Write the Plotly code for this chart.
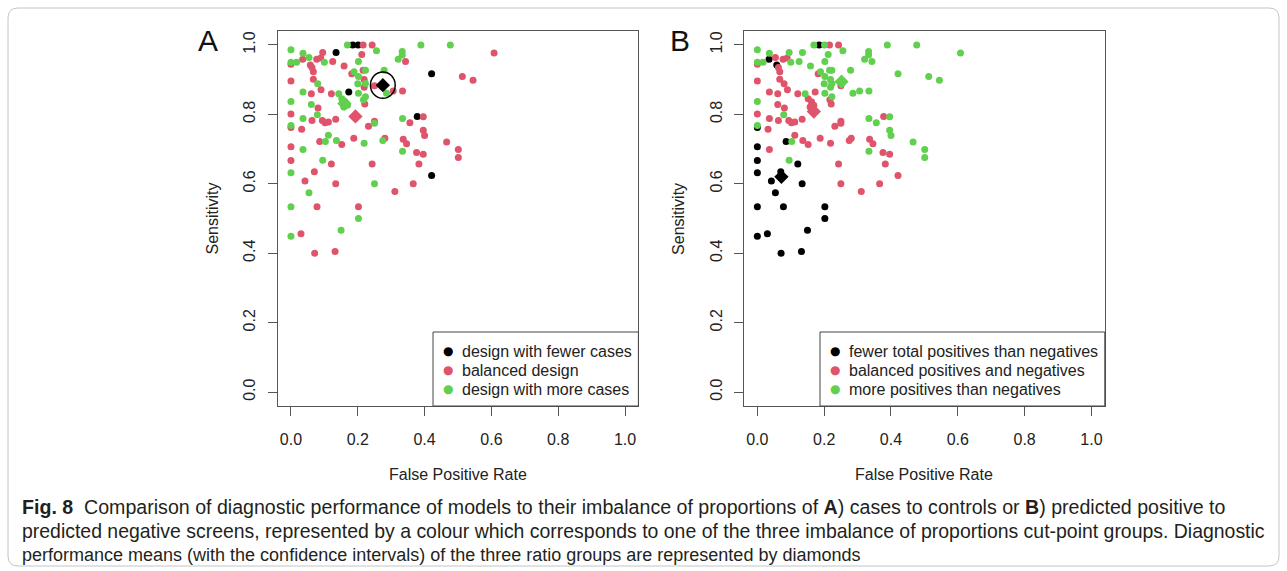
import plotly.graph_objects as go

W, H = 1287, 571

# ---------------- data ----------------
fpr = [0.169, 0.185, 0.201, 0.216, 0.243, 0.389, 0.477, 0.000, 0.036, 0.095,
       0.135, 0.212, 0.256, 0.333, 0.333, 0.321, 0.343, 0.000, 0.017, 0.000,
       0.035, 0.054, 0.077, 0.089, 0.100, 0.125, 0.202, 0.159, 0.058, 0.063,
       0.067, 0.513, 0.421, 0.182, 0.189, 0.216, 0.223, 0.279, 0.000, 0.067,
       0.080, 0.090, 0.202, 0.200, 0.219, 0.223, 0.250, 0.306, 0.334, 0.286,
       0.219, 0.173, 0.036, 0.061, 0.121, 0.143, 0.202, 0.223, 0.221, 0.217,
       0.000, 0.061, 0.081, 0.152, 0.162, 0.169, 0.158, 0.000, 0.036, 0.063,
       0.079, 0.094, 0.102, 0.112, 0.134, 0.250, 0.250, 0.232, 0.334, 0.378,
       0.396, 0.356, 0.396, 0.400, 0.000, 0.000, 0.032, 0.112, 0.086, 0.103,
       0.136, 0.152, 0.188, 0.219, 0.281, 0.275, 0.336, 0.346, 0.466, 0.501,
       0.501, 0.000, 0.036, 0.334, 0.376, 0.396, 0.095, 0.000, 0.121, 0.243,
       0.383, 0.000, 0.070, 0.421, 0.042, 0.134, 0.250, 0.366, 0.054, 0.311,
       0.000, 0.078, 0.202, 0.202, 0.150, 0.000, 0.030, 0.071, 0.132, 0.608,
       0.545]
sens = [1.000, 1.000, 1.000, 1.000, 1.000, 1.000, 1.000, 0.986, 0.976, 0.978,
        0.978, 0.972, 0.983, 0.981, 0.971, 0.959, 0.952, 0.950, 0.950, 0.944,
        0.959, 0.964, 0.959, 0.962, 0.950, 0.952, 0.952, 0.939, 0.942, 0.935,
        0.923, 0.909, 0.917, 0.917, 0.923, 0.927, 0.927, 0.927, 0.896, 0.901,
        0.888, 0.871, 0.909, 0.888, 0.900, 0.889, 0.882, 0.867, 0.867, 0.861,
        0.878, 0.864, 0.864, 0.859, 0.859, 0.859, 0.861, 0.851, 0.830, 0.842,
        0.837, 0.828, 0.818, 0.845, 0.836, 0.826, 0.821, 0.801, 0.788, 0.782,
        0.799, 0.782, 0.776, 0.778, 0.786, 0.780, 0.774, 0.766, 0.788, 0.794,
        0.793, 0.776, 0.754, 0.739, 0.768, 0.762, 0.757, 0.740, 0.722, 0.722,
        0.725, 0.713, 0.731, 0.717, 0.731, 0.725, 0.728, 0.715, 0.720, 0.699,
        0.676, 0.707, 0.699, 0.694, 0.690, 0.685, 0.668, 0.667, 0.657, 0.657,
        0.657, 0.632, 0.635, 0.624, 0.608, 0.600, 0.600, 0.600, 0.574, 0.578,
        0.534, 0.534, 0.534, 0.500, 0.466, 0.449, 0.456, 0.400, 0.405, 0.977,
        0.898]
# group codes: 0 = first group (black), 1 = balanced (red), 2 = third group (green)
group_a = [2, 0, 0, 1, 1, 2, 2, 2, 2, 1, 0, 1, 2, 2, 2, 2, 1, 2, 2, 1,
           1, 2, 1, 1, 2, 1, 2, 1, 1, 1, 1, 1, 0, 1, 2, 1, 2, 2, 1, 1,
           2, 1, 2, 2, 1, 2, 1, 1, 1, 2, 1, 0, 2, 1, 1, 2, 2, 2, 1, 2,
           2, 2, 1, 2, 2, 2, 2, 1, 2, 1, 2, 1, 1, 1, 1, 1, 2, 1, 2, 0,
           1, 1, 1, 1, 2, 1, 1, 2, 1, 2, 2, 1, 1, 2, 1, 2, 1, 1, 1, 1,
           1, 1, 2, 2, 1, 1, 2, 1, 1, 1, 1, 2, 1, 0, 1, 1, 2, 1, 2, 1,
           2, 1, 1, 2, 2, 2, 1, 1, 1, 1, 1]
group_b = [2, 0, 2, 1, 1, 2, 2, 2, 2, 2, 2, 2, 2, 2, 2, 2, 2, 2, 2, 1,
           0, 1, 1, 1, 2, 2, 2, 2, 0, 1, 1, 2, 2, 1, 2, 2, 2, 2, 1, 1,
           1, 1, 2, 2, 2, 2, 1, 2, 2, 2, 2, 1, 1, 1, 1, 2, 2, 2, 1, 1,
           2, 1, 1, 1, 1, 1, 1, 1, 1, 1, 2, 1, 1, 1, 1, 1, 1, 1, 2, 1,
           2, 2, 2, 2, 2, 0, 1, 1, 0, 2, 1, 1, 1, 1, 1, 1, 1, 1, 2, 2,
           2, 0, 1, 2, 1, 1, 2, 0, 0, 1, 1, 0, 0, 1, 0, 0, 1, 1, 0, 1,
           0, 0, 0, 0, 0, 0, 0, 0, 0, 2, 2]

# group means (diamonds) and confidence-interval radii
mean_a_fpr = [0.275, 0.193, 0.160]
mean_a_sens = [0.884, 0.794, 0.831]
ci_a_fpr = [0.037, 0.0, 0.0]
ci_a_sens = [0.038, 0.0, 0.0]
mean_b_fpr = [0.072, 0.169, 0.252]
mean_b_sens = [0.620, 0.808, 0.894]

labels_a = ["design with fewer cases", "balanced design", "design with more cases"]
labels_b = ["fewer total positives than negatives", "balanced positives and negatives",
            "more positives than negatives"]
tick_vals = [0.0, 0.2, 0.4, 0.6, 0.8, 1.0]
tick_text = ["0.0", "0.2", "0.4", "0.6", "0.8", "1.0"]

caption_lines = [
    "<b>Fig. 8</b>\u00a0\u00a0Comparison of diagnostic performance of models to their imbalance of proportions of <b>A</b>) cases to controls or <b>B</b>) predicted positive to",
    "predicted negative screens, represented by a colour which corresponds to one of the three imbalance of proportions cut-point groups. Diagnostic",
    "performance means (with the confidence intervals) of the three ratio groups are represented by diamonds",
]
caption_sizes = [19.6, 19.45, 18.0]

colors = ["#000000", "#DF536B", "#61D04F"]
FONT = "Liberation Sans, Arial, Helvetica, sans-serif"

# ---------------- layout helpers (pixels -> paper) ----------------
def px(x):
    return x / W

def py(y):
    return 1 - y / H

panels = [
    dict(xa="x", ya="y", left=277.6, right=638.4, letter="A", letter_x=208,
         groups=group_a, mfpr=mean_a_fpr, msens=mean_a_sens, labels=labels_a,
         leg_left=433),
    dict(xa="x2", ya="y2", left=744.0, right=1104.8, letter="B", letter_x=680,
         groups=group_b, mfpr=mean_b_fpr, msens=mean_b_sens, labels=labels_b,
         leg_left=820),
]
TOP, BOTTOM = 31.0, 406.0

fig = go.Figure()
annotations = []
shapes = []

for p in panels:
    for g in range(3):
        idx = [i for i, v in enumerate(p["groups"]) if v == g]
        fig.add_trace(go.Scatter(
            x=[fpr[i] for i in idx], y=[sens[i] for i in idx],
            mode="markers", xaxis=p["xa"], yaxis=p["ya"],
            marker=dict(color=colors[g], size=7, line=dict(width=0)),
            name=p["labels"][g], showlegend=False, hoverinfo="x+y"))
    for g in range(3):
        fig.add_trace(go.Scatter(
            x=[p["mfpr"][g]], y=[p["msens"][g]], mode="markers",
            xaxis=p["xa"], yaxis=p["ya"],
            marker=dict(color=colors[g], size=11, symbol="diamond", line=dict(width=0)),
            showlegend=False, name=p["labels"][g] + " mean"))

    # panel letter
    annotations.append(dict(text=p["letter"], x=px(p["letter_x"]), y=py(40),
                            xref="paper", yref="paper", showarrow=False,
                            font=dict(size=30, family=FONT, color="#111"),
                            xanchor="center", yanchor="middle"))
    cx = (p["left"] + p["right"]) / 2
    annotations.append(dict(text="False Positive Rate", x=px(cx), y=py(474),
                            xref="paper", yref="paper", showarrow=False,
                            font=dict(size=16, family=FONT, color="#222"),
                            xanchor="center", yanchor="middle"))
    annotations.append(dict(text="Sensitivity", x=px(p["left"] - 65.6), y=py((TOP + BOTTOM) / 2),
                            xref="paper", yref="paper", showarrow=False, textangle=-90,
                            font=dict(size=16, family=FONT, color="#222"),
                            xanchor="center", yanchor="middle"))
    # legend box
    shapes.append(dict(type="rect", xref="paper", yref="paper",
                       x0=px(p["leg_left"]), x1=px(p["right"]), y0=py(BOTTOM), y1=py(332),
                       line=dict(color="#444", width=1), fillcolor="white", layer="above"))
    for k, ly in enumerate([351, 370, 389]):
        annotations.append(dict(text="\u25CF", x=px(p["leg_left"] + 15), y=py(ly),
                                xref="paper", yref="paper", showarrow=False,
                                font=dict(size=12, family="DejaVu Sans", color=colors[k]),
                                xanchor="center", yanchor="middle"))
        annotations.append(dict(text=p["labels"][k], x=px(p["leg_left"] + 27), y=py(ly),
                                xref="paper", yref="paper", showarrow=False,
                                font=dict(size=16, family=FONT, color="#222"),
                                xanchor="left", yanchor="middle"))

# confidence interval circle (panel A)
for g in range(3):
    if ci_a_fpr[g] > 0:
        shapes.append(dict(type="circle", xref="x", yref="y",
                           x0=mean_a_fpr[g] - ci_a_fpr[g], x1=mean_a_fpr[g] + ci_a_fpr[g],
                           y0=mean_a_sens[g] - ci_a_sens[g], y1=mean_a_sens[g] + ci_a_sens[g],
                           line=dict(color=colors[g], width=1.5)))

# caption
for line, ly, fs in zip(caption_lines, [507, 531, 555], caption_sizes):
    annotations.append(dict(text=line, x=px(20), y=py(ly), xref="paper", yref="paper",
                            showarrow=False, xanchor="left", yanchor="middle",
                            font=dict(size=fs, family=FONT, color="#231f20")))

# outer rounded frame
r = 10
x0f, x1f, y0f, y1f = 8, 1279, 8, 566
path = (f"M {px(x0f + r)},{py(y0f)} L {px(x1f - r)},{py(y0f)} "
        f"Q {px(x1f)},{py(y0f)} {px(x1f)},{py(y0f + r)} L {px(x1f)},{py(y1f - r)} "
        f"Q {px(x1f)},{py(y1f)} {px(x1f - r)},{py(y1f)} L {px(x0f + r)},{py(y1f)} "
        f"Q {px(x0f)},{py(y1f)} {px(x0f)},{py(y1f - r)} L {px(x0f)},{py(y0f + r)} "
        f"Q {px(x0f)},{py(y0f)} {px(x0f + r)},{py(y0f)} Z")
shapes.append(dict(type="path", xref="paper", yref="paper", path=path,
                   line=dict(color="#c4c4c4", width=1)))

axis_common = dict(range=[-0.04, 1.04], tickvals=tick_vals, ticktext=tick_text,
                   ticks="outside", ticklen=9, tickwidth=1, tickcolor="#555",
                   showline=True, mirror=True, linecolor="#555", linewidth=1,
                   showgrid=False, zeroline=False,
                   tickfont=dict(size=16, family=FONT, color="#222"))
ydom = [py(BOTTOM), py(TOP)]
fig.update_layout(
    width=W, height=H, autosize=False,
    margin=dict(l=0, r=0, t=0, b=0),
    paper_bgcolor="white", plot_bgcolor="white",
    showlegend=False,
    xaxis=dict(domain=[px(panels[0]["left"]), px(panels[0]["right"])], anchor="y",
               ticklabelstandoff=10, **axis_common),
    yaxis=dict(domain=ydom, anchor="x", tickangle=-90, ticklabelstandoff=6, **axis_common),
    xaxis2=dict(domain=[px(panels[1]["left"]), px(panels[1]["right"])], anchor="y2",
                ticklabelstandoff=10, **axis_common),
    yaxis2=dict(domain=ydom, anchor="x2", tickangle=-90, ticklabelstandoff=6, **axis_common),
    annotations=annotations,
    shapes=shapes,
)

fig.write_html("out.html")
